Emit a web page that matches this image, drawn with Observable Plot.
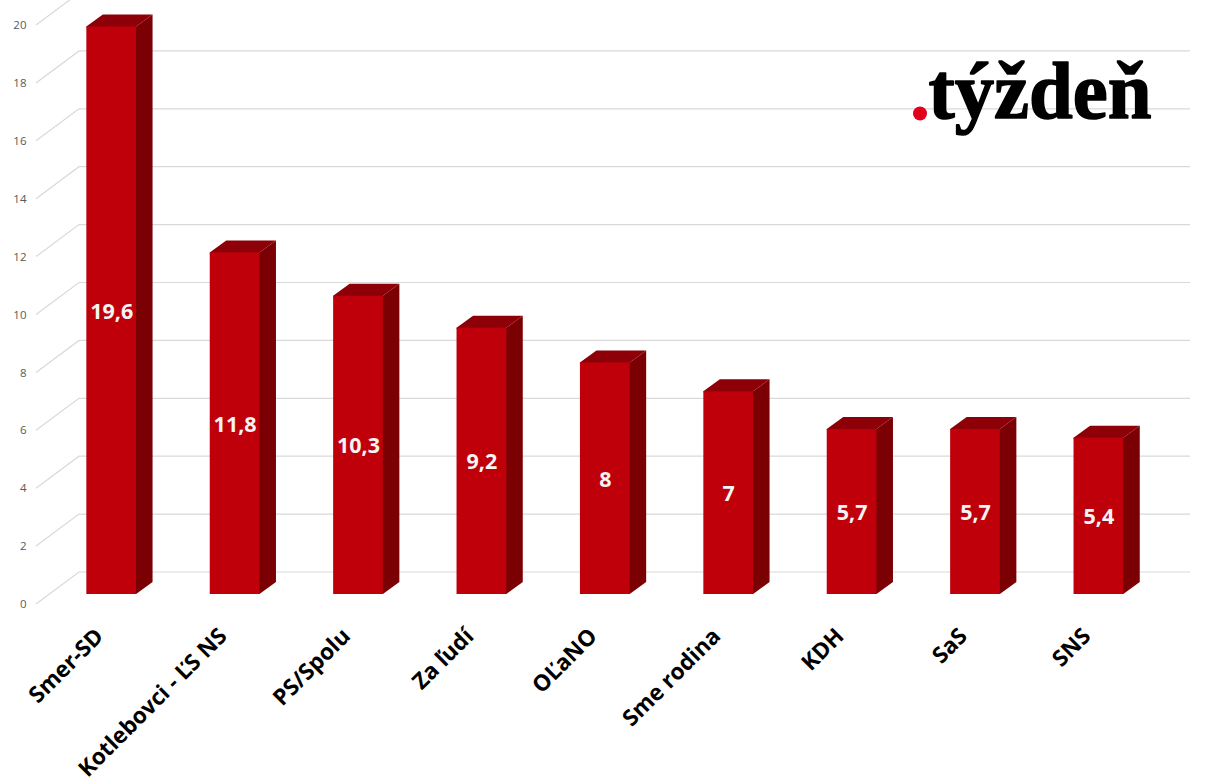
<!DOCTYPE html>
<html><head><meta charset="utf-8">
<style>html,body{margin:0;padding:0;background:#fff;overflow:hidden}svg{display:block}</style>
<script src="https://cdn.jsdelivr.net/npm/d3@7"></script>
<script src="https://cdn.jsdelivr.net/npm/@observablehq/plot@0.6"></script>
</head><body><div id="chart"></div>
<script>
const parties = ["Smer-SD","Kotlebovci - ĽS NS","PS/Spolu","Za ľudí","OĽaNO","Sme rodina","KDH","SaS","SNS"];
const shares = [19.6,11.8,10.3,9.2,8,7,5.7,5.7,5.4];
const shareLabels = ["19,6","11,8","10,3","9,2","8","7","5,7","5,7","5,4"];
const yTicks = [0,2,4,6,8,10,12,14,16,18,20];
const rows = parties.map((party,i)=>({party,share:shares[i],label:shareLabels[i]}));

const FONT = '"Open Sans", sans-serif';
const lift = 10;                 // bars stand this far behind the front floor edge
const depth = {dx:16.5, dy:-12}; // bar depth
const wall = {x0:36, x1:79, dy:-32, xEnd:1190};

const svgEl = (name, attrs) => {
  const el = document.createElementNS("http://www.w3.org/2000/svg", name);
  for (const k in attrs) el.setAttribute(k, attrs[k]);
  return el;
};

function gridMark(index, scales) {
  const g = svgEl("g", {fill:"none", stroke:"#D9D9D9", "stroke-width":1.2});
  for (const t of yTicks) {
    const y = scales.y(t);
    g.appendChild(svgEl("polyline", {
      points:`${wall.x0},${y} ${wall.x1},${y+wall.dy} ${wall.xEnd},${y+wall.dy}`
    }));
  }
  return g;
}

function bar3dMark(index, scales) {
  const g = svgEl("g", {});
  const bw = scales.x.bandwidth();
  for (const r of rows) {
    const x1 = scales.x(r.party), x2 = x1 + bw;
    const yT = scales.y(r.share) - lift, yB = scales.y(0) - lift;
    // faces tuck 1px under the front bar so no pale seam shows at the shared edge
    g.appendChild(svgEl("polygon", {fill:"#7B0004",
      points:`${x2-1},${yT} ${x2},${yT} ${x2+depth.dx},${yT+depth.dy} ${x2+depth.dx},${yB+depth.dy} ${x2},${yB} ${x2-1},${yB}`}));
    g.appendChild(svgEl("polygon", {fill:"#8E0007",
      points:`${x1},${yT+1} ${x1},${yT} ${x1+depth.dx},${yT+depth.dy} ${x2+depth.dx},${yT+depth.dy} ${x2},${yT} ${x2},${yT+1}`}));
  }
  return g;
}

const fitLogo = (index, scales, values, dims, ctx, next) => {
  const g = next(index, scales, values, dims, ctx);
  g.querySelectorAll("text").forEach(t => {
    t.setAttribute("textLength", 223);
    t.setAttribute("lengthAdjust", "spacingAndGlyphs");
  });
  return g;
};

const chart = Plot.plot({
  width:1208, height:777,
  marginLeft:36, marginRight:18, marginTop:0, marginBottom:173,
  style:{fontFamily:FONT, background:"#fff", overflow:"hidden"},
  x:{type:"band", domain:parties, range:[49.5,1160.1], paddingInner:0.597, paddingOuter:0.2985, round:false, label:null},
  y:{domain:[0,20], range:[604,25], label:null},
  marks:[
    gridMark,
    bar3dMark,
    Plot.barY(rows,{x:"party", y:"share", dy:-lift, fill:"#BF000B", inset:0}),
    Plot.text(rows,{x:"party", y:d=>d.share/2, dy:-lift+1, text:"label", fill:"#F4F4F4", fontSize:21.5, fontWeight:700}),
    Plot.axisY({ticks:yTicks, tickSize:0, tickPadding:10, fontSize:11.5, color:"#595959", label:null, tickFormat:d=>String(d)}),
    Plot.axisX({tickRotate:-45, tickSize:0, tickPadding:28, dx:-12, fontSize:22.5, fontWeight:700, color:"#000", label:null}),
    Plot.dot([0],{frameAnchor:"top-left", dx:883.5, dy:113, r:7, fill:"#E2001A", stroke:null}),
    Plot.text(["týždeň"],{frameAnchor:"top-left", dx:892, dy:117, text:d=>d, textAnchor:"start", lineAnchor:"bottom",
      fontFamily:'"Liberation Serif", serif', fontWeight:700, fontSize:80, fill:"#000", stroke:"#000", strokeWidth:1.5, render:fitLogo})
  ]
});
document.getElementById("chart").appendChild(chart);
</script></body></html>
